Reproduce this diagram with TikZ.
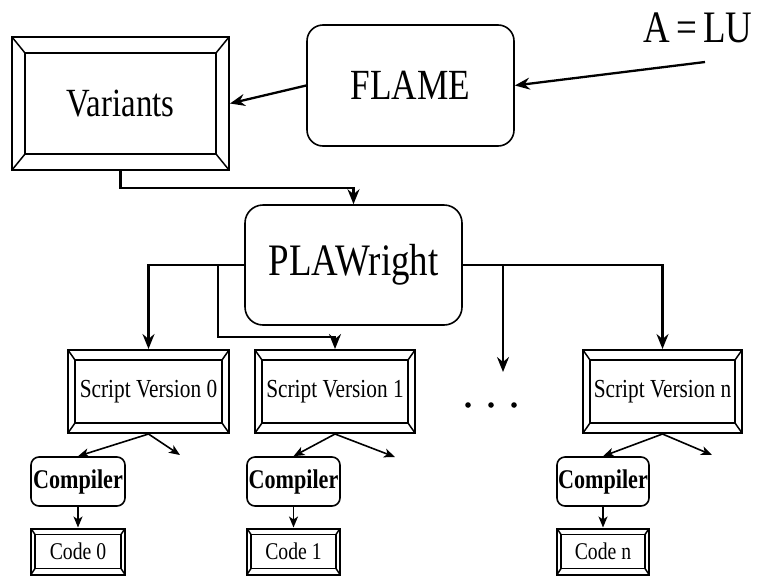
\documentclass[tikz,border=0pt]{standalone}
\usepackage{fontspec}
\setmainfont{Liberation Serif}
\usetikzlibrary{arrows.meta}
\newcommand\fsz[1]{\fontsize{#1}{#1}\selectfont}
\newcommand\sq[1]{\scalebox{0.82}[1]{#1}}
\begin{document}
\begin{tikzpicture}[x=1pt,y=-1pt,
  conn/.style={line width=2.3pt, -{Stealth[length=15pt,width=12pt,inset=5pt]}},
  sconn/.style={line width=1.6pt, -{Stealth[length=11pt,width=9pt,inset=3pt]}},
  bevel/.style 2 args={draw, line width=2pt, inner sep=0pt, path picture={
    \draw[line width=1.5pt] ([shift={(#1,#2)}]path picture bounding box.north west) rectangle ([shift={(-#1,-#2)}]path picture bounding box.south east);
    \draw[line width=1.5pt] (path picture bounding box.north west) -- ++(#1,#2)
      (path picture bounding box.north east) -- ++(-#1,#2)
      (path picture bounding box.south west) -- ++(#1,-#2)
      (path picture bounding box.south east) -- ++(-#1,-#2);
  }},
  roundbox/.style={draw, rounded corners=#1, line width=1.6pt, inner sep=0pt},
]
\useasboundingbox (0,0) rectangle (767,576);

% top row
\node[bevel={13}{16}, minimum width=217pt, minimum height=133pt, font=\fsz{40}] (var) at (120.5,103.5) {\sq{Variants}};
\node[roundbox=16pt, minimum width=207pt, minimum height=121pt, font=\fsz{43}] (flame) at (410.5,85.5) {\sq{FLAME}};
\node[font=\fsz{45}, inner sep=0pt] (alu) at (698,28) {\sq{A\,=\,LU}};
\coordinate (alustart) at (705,62);
\draw[conn] (alustart) -- (flame.east);
\draw[conn] (flame.west) -- (var.east);

% PLAWright
\node[roundbox=18pt, minimum width=217pt, minimum height=120pt, font=\fsz{45}] (plaw) at (353.5,265) {\sq{PLAWright}};
\draw[conn] (var.south) -- ++(0,17) -| (plaw.north);

% script boxes
\node[bevel={7}{10}, minimum width=161pt, minimum height=83pt, font=\fsz{26}] (s0) at (148.5,391.5) {\sq{Script Version 0}};
\node[bevel={7}{10}, minimum width=160pt, minimum height=83pt, font=\fsz{26}] (s1) at (335,391.5) {\sq{Script Version 1}};
\node[bevel={7}{10}, minimum width=159pt, minimum height=83pt, font=\fsz{26}] (sn) at (662.5,391.5) {\sq{Script Version n}};

\coordinate (b1) at (218,265);
\coordinate (b1c) at (218,337);
\coordinate (b2) at (503,265);
\coordinate (b2e) at (503,372);
\draw[conn] (plaw.west) -| (s0.north);
\draw[conn] (b1) -- (b1c) -| (s1.north);
\draw[conn] (plaw.east) -| (sn.north);
\draw[conn] (b2) -- (b2e);

% dots
\fill (468,405) circle (2.8pt) (491,405) circle (2.8pt) (514,405) circle (2.8pt);

% compilers
\node[roundbox=8pt, minimum width=94pt, minimum height=49pt, font=\fsz{27}\bfseries] (c0) at (78,481.5) {\sq{Compiler}};
\node[roundbox=8pt, minimum width=93pt, minimum height=49pt, font=\fsz{27}\bfseries] (c1) at (293.5,481.5) {\sq{Compiler}};
\node[roundbox=8pt, minimum width=92pt, minimum height=49pt, font=\fsz{27}\bfseries] (cn) at (603,481.5) {\sq{Compiler}};

\coordinate (f0) at (180,455);
\coordinate (f1) at (395,457);
\coordinate (fn) at (712,455);
\draw[sconn] (s0.south) -- (c0.north);
\draw[sconn] (s0.south) -- (f0);
\draw[sconn] (s1.south) -- (c1.north);
\draw[sconn] (s1.south) -- (f1);
\draw[sconn] (sn.south) -- (cn.north);
\draw[sconn] (sn.south) -- (fn);

% code boxes
\node[bevel={4}{6}, minimum width=94pt, minimum height=46pt, font=\fsz{24}] (k0) at (78,551.5) {\sq{Code 0}};
\node[bevel={4}{6}, minimum width=93pt, minimum height=46pt, font=\fsz{24}] (k1) at (293.5,551.5) {\sq{Code 1}};
\node[bevel={4}{6}, minimum width=92pt, minimum height=46pt, font=\fsz{24}] (kn) at (603,551.5) {\sq{Code n}};
\draw[sconn] (c0.south) -- (k0.north);
\draw[sconn] (c1.south) -- (k1.north);
\draw[sconn] (cn.south) -- (kn.north);
\end{tikzpicture}
\end{document}
